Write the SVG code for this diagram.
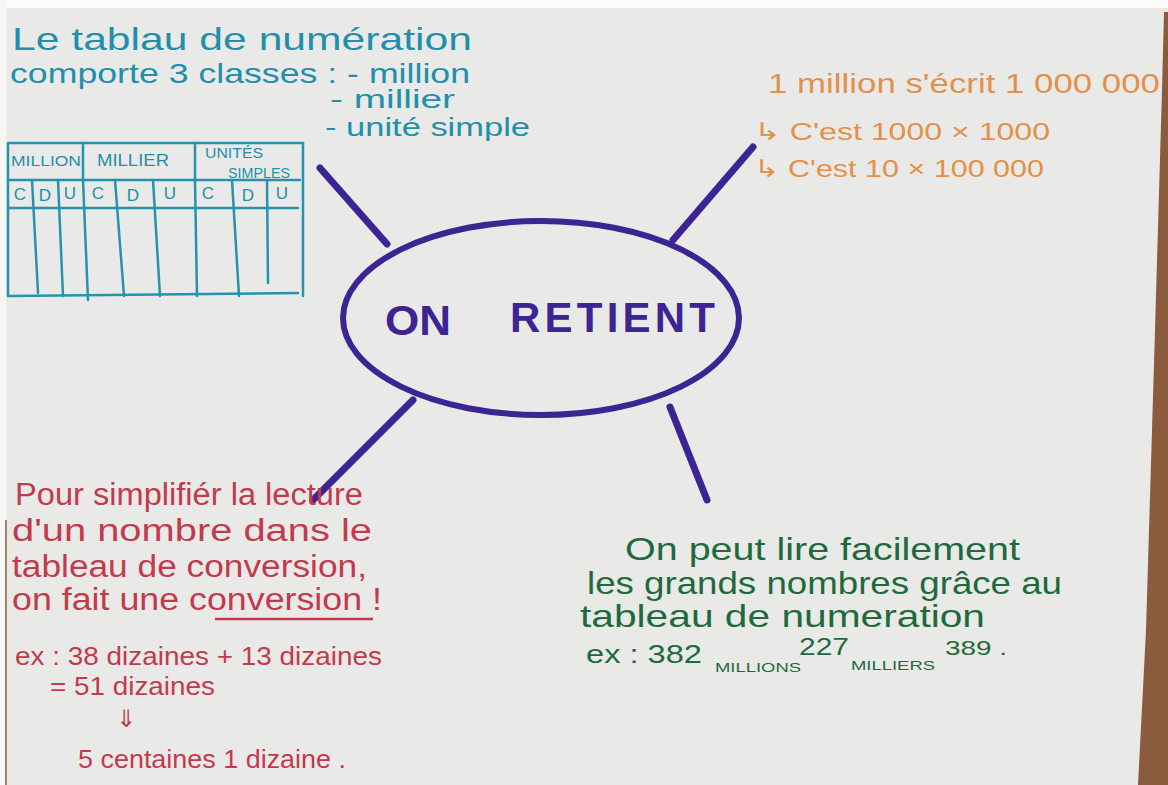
<svg xmlns="http://www.w3.org/2000/svg" width="1168" height="785" viewBox="0 0 1168 785">
<style>
.t{font-family:"Liberation Sans","DejaVu Sans",sans-serif}
.teal{fill:#1f8fab}
.tealS{stroke:#2593ad;fill:none;stroke-width:2.5;stroke-linecap:round}
.orange{fill:#e3914a}
.purple{fill:#3c2492}
.red{fill:#c23a4c}
.green{fill:#1f6a3c}
.spoke{stroke:#3c2492;stroke-width:7;stroke-linecap:round;fill:none}
</style>
<rect x="0" y="0" width="1168" height="785" fill="#e9eae8"/>
<rect x="0" y="0" width="1168" height="8" fill="#fbfbfb"/>
<rect x="0" y="0" width="6" height="785" fill="#f6f6f5"/>
<line x1="6" y1="520" x2="6" y2="785" stroke="#a7825e" stroke-width="2"/>
<polygon points="1164,12 1168,12 1168,785 1138,785 1146,630 1155,330 1162,90" fill="#8c5a3c"/>

<g id="connectors">
<line class="spoke" x1="320" y1="168" x2="387" y2="244"/>
<line class="spoke" x1="753" y1="147" x2="673" y2="240"/>
<line class="spoke" x1="413" y1="400" x2="313" y2="500"/>
<line class="spoke" x1="670" y1="407" x2="707" y2="500"/>
</g>

<g id="center">
<ellipse cx="541" cy="318" rx="198" ry="97" fill="none" stroke="#3c2492" stroke-width="6"/>
<text class="t purple" x="385" y="335" font-size="42" font-weight="bold" textLength="66" lengthAdjust="spacingAndGlyphs">ON</text>
<text class="t purple" x="510" y="332" font-size="42" font-weight="bold" textLength="205" lengthAdjust="spacing">RETIENT</text>
</g>

<g id="top-left">
<text class="t teal" x="12" y="50" font-size="32" textLength="460" lengthAdjust="spacingAndGlyphs">Le tablau de numération</text>
<text class="t teal" x="10" y="83" font-size="28" textLength="460" lengthAdjust="spacingAndGlyphs">comporte 3 classes : - million</text>
<text class="t teal" x="330" y="108" font-size="25" textLength="125" lengthAdjust="spacingAndGlyphs">- millier</text>
<text class="t teal" x="325" y="136" font-size="26" textLength="205" lengthAdjust="spacingAndGlyphs">- unité simple</text>
<g id="table">
<path class="tealS" d="M8,143 L303,143 L303,296 M8,143 L8,296 M8,180 L300,180 M8,208 L298,208 M10,296 L298,293"/>
<path class="tealS" d="M83,143 L83,180 M195,143 L195,180"/>
<path class="tealS" d="M32,180 L38,293 M58,180 L63,296 M83,180 L88,300 M115,180 L124,296 M153,180 L160,296 M195,180 L197,296 M232,180 L239,296 M267,180 L268,283"/>
<text class="t teal" x="11" y="166" font-size="15" textLength="70" lengthAdjust="spacingAndGlyphs">MILLION</text>
<text class="t teal" x="97" y="166" font-size="17" textLength="72" lengthAdjust="spacingAndGlyphs">MILLIER</text>
<text class="t teal" x="205" y="158" font-size="14" textLength="58" lengthAdjust="spacingAndGlyphs">UNITÉS</text>
<text class="t teal" x="228" y="178" font-size="14" textLength="62" lengthAdjust="spacingAndGlyphs">SIMPLES</text>
<g font-size="17" text-anchor="middle">
<text class="t teal" x="20" y="200">C</text>
<text class="t teal" x="45" y="201">D</text>
<text class="t teal" x="70" y="199">U</text>
<text class="t teal" x="98" y="199">C</text>
<text class="t teal" x="133" y="201">D</text>
<text class="t teal" x="170" y="199">U</text>
<text class="t teal" x="208" y="199">C</text>
<text class="t teal" x="248" y="201">D</text>
<text class="t teal" x="282" y="199">U</text>
</g>
</g>
</g>

<g id="top-right">
<text class="t orange" x="768" y="93" font-size="27" textLength="392" lengthAdjust="spacingAndGlyphs">1 million s'écrit 1 000 000</text>
<text class="t orange" x="754" y="140" font-size="24" textLength="296" lengthAdjust="spacingAndGlyphs">↳ C'est  1000  × 1000</text>
<text class="t orange" x="754" y="177" font-size="24" textLength="290" lengthAdjust="spacingAndGlyphs">↳ C'est  10 × 100 000</text>
</g>

<g id="bottom-left">
<text class="t red" x="15" y="505" font-size="31" textLength="348" lengthAdjust="spacingAndGlyphs">Pour simplifiér la lecture</text>
<text class="t red" x="12" y="541" font-size="31" textLength="360" lengthAdjust="spacingAndGlyphs">d'un nombre dans le</text>
<text class="t red" x="12" y="577" font-size="31" textLength="355" lengthAdjust="spacingAndGlyphs">tableau de conversion,</text>
<text class="t red" x="12" y="610" font-size="31" textLength="370" lengthAdjust="spacingAndGlyphs">on fait une conversion !</text>
<line x1="215" y1="619" x2="373" y2="619" stroke="#c23a4c" stroke-width="2.5"/>
<text class="t red" x="15" y="665" font-size="26" textLength="367" lengthAdjust="spacingAndGlyphs">ex : 38 dizaines + 13 dizaines</text>
<text class="t red" x="50" y="695" font-size="26" textLength="165" lengthAdjust="spacingAndGlyphs">= 51 dizaines</text>
<text class="t red" x="126" y="727" font-size="24" text-anchor="middle">⇓</text>
<text class="t red" x="78" y="768" font-size="26" textLength="268" lengthAdjust="spacingAndGlyphs">5 centaines 1 dizaine .</text>
</g>

<g id="bottom-right">
<text class="t green" x="625" y="560" font-size="32" textLength="395" lengthAdjust="spacingAndGlyphs">On peut lire facilement</text>
<text class="t green" x="587" y="594" font-size="32" textLength="475" lengthAdjust="spacingAndGlyphs">les grands nombres grâce au</text>
<text class="t green" x="580" y="627" font-size="32" textLength="405" lengthAdjust="spacingAndGlyphs">tableau  de  numeration</text>
<text class="t green" x="586" y="663" font-size="25" textLength="116" lengthAdjust="spacingAndGlyphs">ex :  382</text>
<text class="t green" x="715" y="672" font-size="13" textLength="86" lengthAdjust="spacingAndGlyphs">MILLIONS</text>
<text class="t green" x="799" y="655" font-size="23" textLength="50" lengthAdjust="spacingAndGlyphs">227</text>
<text class="t green" x="851" y="670" font-size="13" textLength="84" lengthAdjust="spacingAndGlyphs">MILLIERS</text>
<text class="t green" x="945" y="655" font-size="21" textLength="62" lengthAdjust="spacingAndGlyphs">389 .</text>
</g>
</svg>
